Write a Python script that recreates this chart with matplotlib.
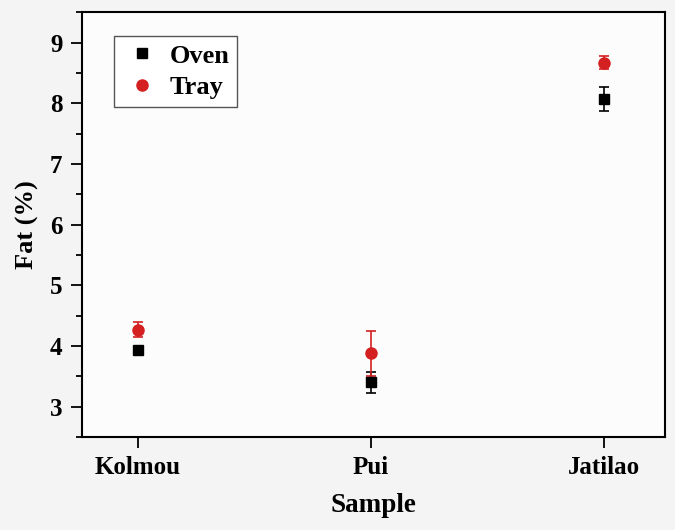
import matplotlib
matplotlib.use('Agg')
import matplotlib.pyplot as plt
from matplotlib.lines import Line2D
from matplotlib.ticker import MultipleLocator

# values
samples = ['Kolmou', 'Pui', 'Jatilao']
oven = [3.94, 3.40, 8.07]
oven_err = [0.03, 0.17, 0.20]
tray = [4.27, 3.88, 8.67]
tray_err = [0.13, 0.37, 0.11]

plt.rcParams['font.family'] = ['Liberation Serif', 'DejaVu Serif']
plt.rcParams['font.weight'] = 'bold'

red = '#d42020'

fig = plt.figure(figsize=(6.75, 5.3), dpi=100, facecolor='#f4f4f4')
ax = fig.add_axes([0.1215, 0.1755, 0.8635, 0.8015])
ax.set_facecolor('#fcfcfc')

x = list(range(len(samples)))
ax.errorbar(x, oven, yerr=oven_err, fmt='s', color='black', ms=7,
            capsize=3.5, elinewidth=1.2, capthick=1.2)
ax.errorbar(x, tray, yerr=tray_err, fmt='o', color=red, ms=8,
            capsize=3.5, elinewidth=1.2, capthick=1.2)

ax.set_xlim(-0.24, 2.26)
ax.set_ylim(2.5, 9.5)
ax.set_xticks(x)
ax.set_xticklabels(samples)
ax.yaxis.set_major_locator(MultipleLocator(1))
ax.yaxis.set_minor_locator(MultipleLocator(0.5))
ax.tick_params(axis='both', which='major', direction='out', length=8, width=1.3,
               labelsize=18, pad=6)
ax.tick_params(axis='y', which='minor', direction='out', length=4, width=1.3)
ax.tick_params(axis='x', pad=6)
for s in ax.spines.values():
    s.set_linewidth(1.5)

ax.set_xlabel('Sample', fontsize=19.5, fontweight='bold', labelpad=10)
ax.set_ylabel('Fat (%)', fontsize=19, fontweight='bold', labelpad=8)

handles = [Line2D([], [], ls='none', marker='s', color='black', ms=7),
           Line2D([], [], ls='none', marker='o', color=red, ms=8)]
ax.legend(handles, ['Oven', 'Tray'], loc='upper left',
          bbox_to_anchor=(0.055, 0.9435), borderaxespad=0, fontsize=19,
          fancybox=False, edgecolor='#555555', framealpha=1,
          handletextpad=0.3, borderpad=0.3, handlelength=1.5,
          labelspacing=0.3)

fig.savefig('out.png', dpi=100, facecolor=fig.get_facecolor())
